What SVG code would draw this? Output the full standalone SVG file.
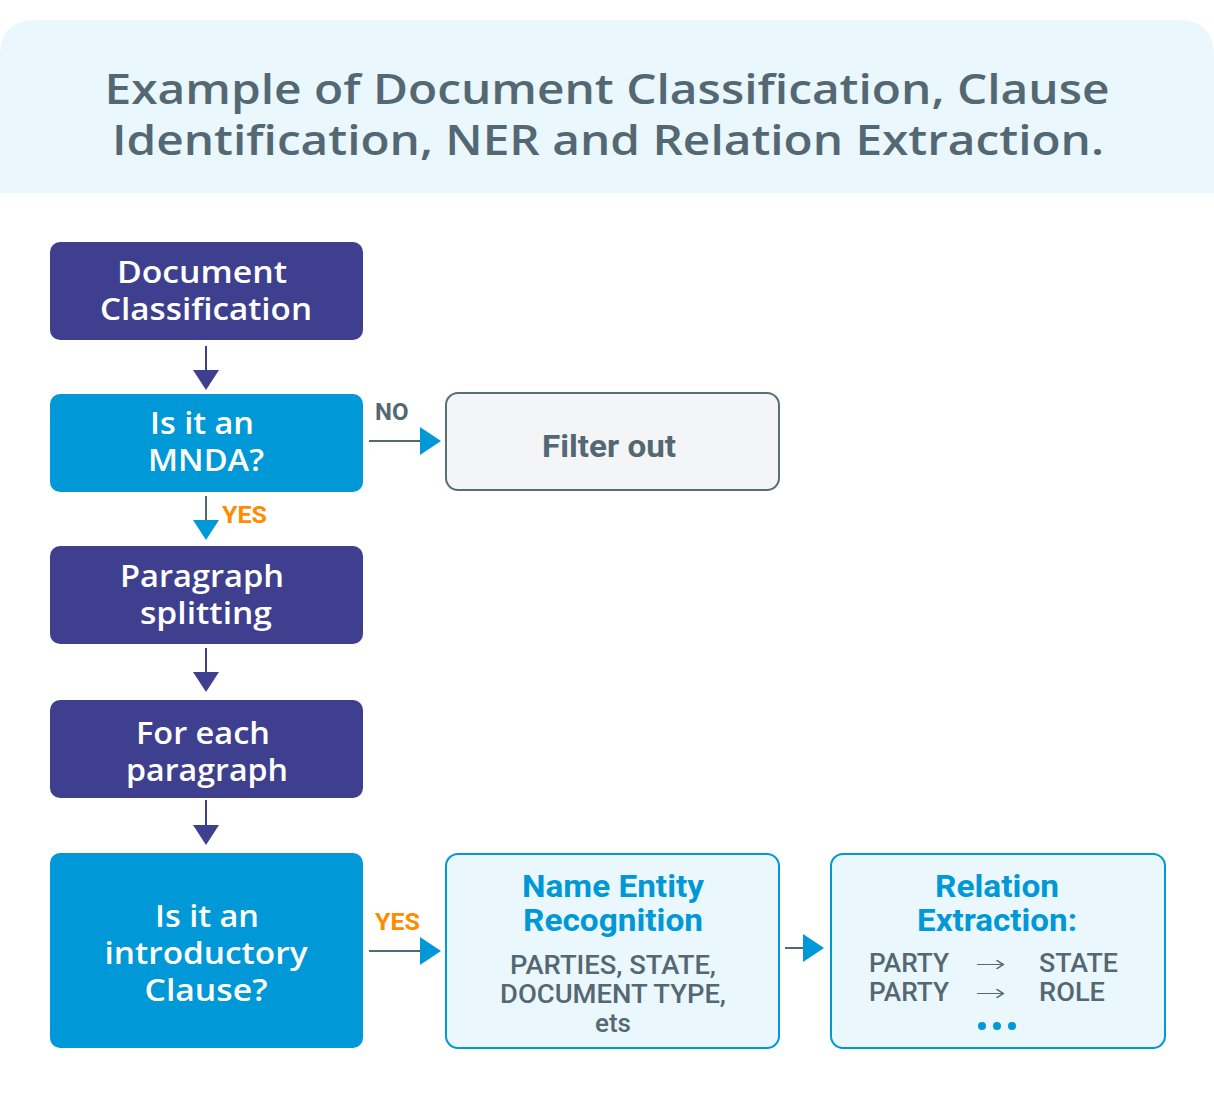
<svg xmlns="http://www.w3.org/2000/svg" width="1214" height="1099" viewBox="0 0 1214 1099">
<defs>
<style>
.title{font-family:"Open Sans","Liberation Sans",sans-serif;font-weight:600;font-size:42px;fill:#546873;text-anchor:middle}
.wt{font-family:"Open Sans","Liberation Sans",sans-serif;font-weight:600;font-size:30px;fill:#ffffff;text-anchor:middle}
.dark{fill:#3f3f8f}
.blue{fill:#0098d6}
.lbl{font-family:Roboto,"Liberation Sans",sans-serif;font-weight:700;font-size:24px}
.gray{fill:#546873}
.orange{fill:#ff8c00}
.bt{font-family:Roboto,"Liberation Sans",sans-serif;font-weight:700;font-size:31px;fill:#0098d6;text-anchor:middle}
.body{font-family:Roboto,"Liberation Sans",sans-serif;font-weight:500;font-size:26px;fill:#546873}
.arr{font-family:"DejaVu Sans",sans-serif;font-weight:200;font-size:24px;fill:#546873}
.ln{stroke:#546873;stroke-width:2;fill:none}
.lnd{stroke:#3f3f8f;stroke-width:2;fill:none}
</style>
</defs>
<rect width="1214" height="1099" fill="#ffffff"/>
<path id="header" d="M0,193 V56 Q0,20 36,20 H1178 Q1214,20 1214,56 V193 Z" fill="#eaf7fd"/>
<text class="title" x="607" y="104" textLength="1005" lengthAdjust="spacingAndGlyphs">Example of Document Classification, Clause</text>
<text class="title" x="608" y="155" textLength="992" lengthAdjust="spacingAndGlyphs">Identification, NER and Relation Extraction.</text>

<g id="n-doc"><rect x="50" y="242" width="313" height="98" rx="10" class="dark"/><text class="wt" x="202" y="283" textLength="170" lengthAdjust="spacingAndGlyphs">Document</text><text class="wt" x="206" y="320" textLength="212" lengthAdjust="spacingAndGlyphs">Classification</text></g>
<g id="n-mnda"><rect x="50" y="394" width="313" height="98" rx="10" class="blue"/><text class="wt" x="202" y="434" textLength="104" lengthAdjust="spacingAndGlyphs">Is it an</text><text class="wt" x="206" y="471" textLength="116" lengthAdjust="spacingAndGlyphs">MNDA?</text></g>
<g id="n-filter"><rect x="446" y="393" width="333" height="97" rx="12" fill="#f4f5f7" stroke="#5a6e78" stroke-width="2"/><text x="609" y="457" text-anchor="middle" textLength="134" lengthAdjust="spacingAndGlyphs" style="font-family:Roboto,'Liberation Sans',sans-serif;font-weight:700;font-size:32px;fill:#546873">Filter out</text></g>
<g id="n-para"><rect x="50" y="546" width="313" height="98" rx="10" class="dark"/><text class="wt" x="202" y="587" textLength="164" lengthAdjust="spacingAndGlyphs">Paragraph</text><text class="wt" x="206" y="624" textLength="132" lengthAdjust="spacingAndGlyphs">splitting</text></g>
<g id="n-each"><rect x="50" y="700" width="313" height="98" rx="10" class="dark"/><text class="wt" x="203" y="744" textLength="134" lengthAdjust="spacingAndGlyphs">For each</text><text class="wt" x="207" y="781" textLength="162" lengthAdjust="spacingAndGlyphs">paragraph</text></g>
<g id="n-intro"><rect x="50" y="853" width="313" height="195" rx="10" class="blue"/><text class="wt" x="207" y="927" textLength="104" lengthAdjust="spacingAndGlyphs">Is it an</text><text class="wt" x="206" y="964" textLength="203" lengthAdjust="spacingAndGlyphs">introductory</text><text class="wt" x="206" y="1001" textLength="123" lengthAdjust="spacingAndGlyphs">Clause?</text></g>
<g id="n-ner"><rect x="446" y="854" width="333" height="194" rx="12" fill="#eaf7fd" stroke="#0098d6" stroke-width="2"/><text class="bt" x="613" y="897" textLength="182" lengthAdjust="spacingAndGlyphs">Name Entity</text><text class="bt" x="613" y="931" textLength="180" lengthAdjust="spacingAndGlyphs">Recognition</text><text class="body" x="613" y="974" text-anchor="middle" textLength="206" lengthAdjust="spacingAndGlyphs">PARTIES, STATE,</text><text class="body" x="613" y="1003" text-anchor="middle" textLength="226" lengthAdjust="spacingAndGlyphs">DOCUMENT TYPE,</text><text class="body" x="613" y="1032" text-anchor="middle">ets</text></g>
<g id="n-rel"><rect x="831" y="854" width="334" height="194" rx="12" fill="#eaf7fd" stroke="#0098d6" stroke-width="2"/><text class="bt" x="997" y="897" textLength="124" lengthAdjust="spacingAndGlyphs">Relation</text><text class="bt" x="997" y="931" textLength="160" lengthAdjust="spacingAndGlyphs">Extraction:</text>
<text class="body" x="869" y="972" textLength="80" lengthAdjust="spacingAndGlyphs">PARTY</text><text class="arr" x="975" y="972" textLength="31" lengthAdjust="spacingAndGlyphs">→</text><text class="body" x="1039" y="972" textLength="79" lengthAdjust="spacingAndGlyphs">STATE</text>
<text class="body" x="869" y="1001" textLength="80" lengthAdjust="spacingAndGlyphs">PARTY</text><text class="arr" x="975" y="1001" textLength="31" lengthAdjust="spacingAndGlyphs">→</text><text class="body" x="1039" y="1001" textLength="66" lengthAdjust="spacingAndGlyphs">ROLE</text>
<circle cx="982" cy="1026" r="4" class="blue"/><circle cx="997" cy="1026" r="4" class="blue"/><circle cx="1012" cy="1026" r="4" class="blue"/></g>

<g id="connectors">
<line class="lnd" x1="206" y1="346" x2="206" y2="372"/><polygon points="193,370 219,370 206,390" class="dark"/>
<line class="ln" x1="369" y1="441" x2="423" y2="441"/><polygon points="420,427 420,455 441,441" class="blue"/>
<text class="lbl gray" x="375" y="420">NO</text>
<line class="ln" x1="206" y1="496" x2="206" y2="522"/><polygon points="193,520 219,520 206,540" class="blue"/>
<text class="lbl orange" x="222" y="523" textLength="45" lengthAdjust="spacingAndGlyphs">YES</text>
<line class="lnd" x1="206" y1="648" x2="206" y2="674"/><polygon points="193,672 219,672 206,692" class="dark"/>
<line class="lnd" x1="206" y1="800" x2="206" y2="827"/><polygon points="193,825 219,825 206,845" class="dark"/>
<line class="ln" x1="369" y1="951" x2="423" y2="951"/><polygon points="420,937 420,965 441,951" class="blue"/>
<text class="lbl orange" x="375" y="930" textLength="45" lengthAdjust="spacingAndGlyphs">YES</text>
<line class="ln" x1="785" y1="948" x2="806" y2="948"/><polygon points="803,934 803,962 824,948" class="blue"/>
</g>
</svg>
